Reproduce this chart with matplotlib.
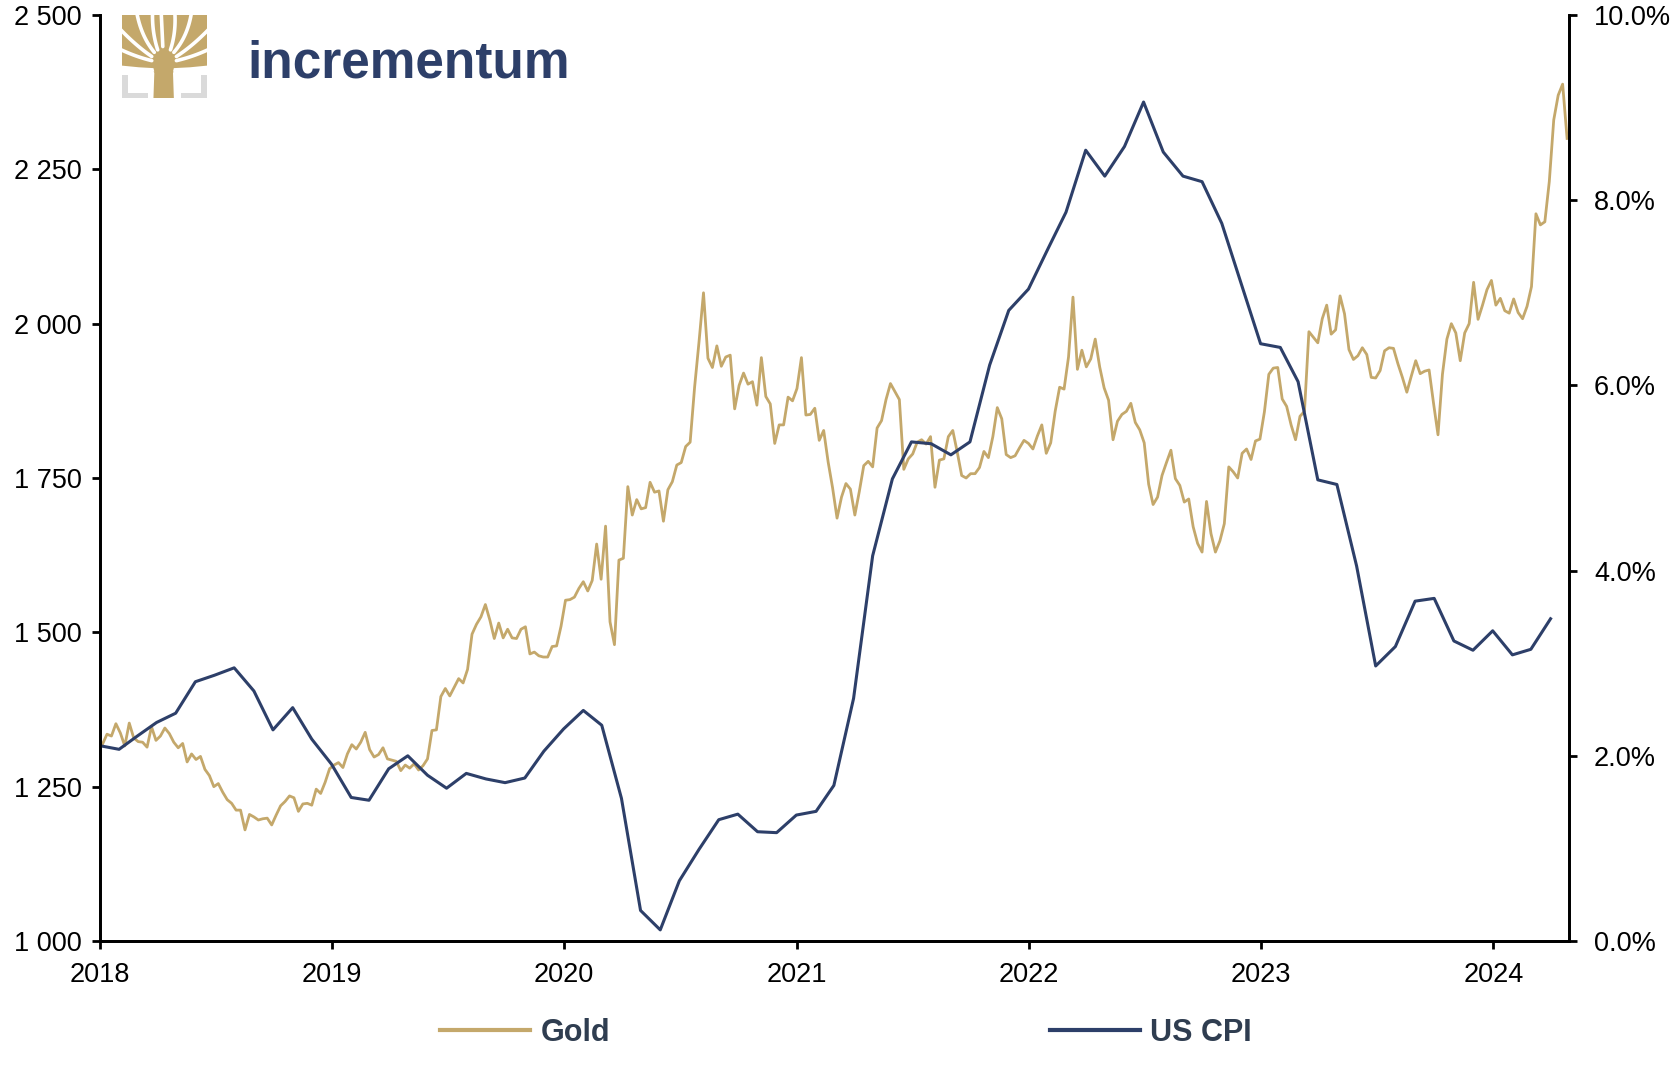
import numpy as np
import pandas as pd
import matplotlib
matplotlib.use("Agg")
import matplotlib.pyplot as plt
from matplotlib.patches import Rectangle, Polygon
from matplotlib.ticker import FuncFormatter, FixedLocator
import matplotlib.dates as mdates

plt.rcParams['font.family'] = ['Liberation Sans', 'DejaVu Sans']

# ---------------- data ----------------
# Gold price (USD/oz), weekly (Fridays)
gold_2018 = [1319, 1335, 1332, 1352, 1337, 1316, 1353, 1329, 1323, 1322, 1314, 1347, 1325,
             1332, 1345, 1336, 1322, 1313, 1320, 1290, 1303, 1294, 1299, 1278, 1268, 1250,
             1255, 1241, 1229, 1223, 1212, 1212, 1180, 1205, 1201, 1196, 1198, 1199, 1188,
             1204, 1219, 1226, 1235, 1232, 1210, 1222, 1223, 1220, 1246, 1239, 1257, 1279]
gold_2019 = [1285, 1289, 1281, 1303, 1318, 1311, 1322, 1338, 1310, 1298, 1302, 1313, 1295,
             1293, 1291, 1276, 1285, 1280, 1287, 1277, 1284, 1295, 1341, 1342, 1396, 1409,
             1397, 1411, 1425, 1418, 1440, 1497, 1513, 1525, 1545, 1520, 1490, 1515, 1491,
             1505, 1491, 1490, 1505, 1509, 1465, 1468, 1462, 1460, 1460, 1477, 1478, 1510]
gold_2020 = [1552, 1553, 1557, 1571, 1582, 1567, 1584, 1643, 1586, 1672, 1517, 1480, 1617,
             1620, 1736, 1690, 1715, 1700, 1702, 1743, 1727, 1729, 1680, 1731, 1744, 1771,
             1775, 1801, 1808, 1897, 1971, 2050, 1944, 1929, 1964, 1931, 1946, 1949, 1862,
             1900, 1920, 1902, 1906, 1868, 1945, 1882, 1870, 1806, 1836, 1836, 1881, 1875]
gold_2021 = [1895, 1945, 1852, 1853, 1863, 1811, 1827, 1776, 1734, 1685, 1719, 1741, 1732,
             1690, 1728, 1770, 1777, 1768, 1831, 1843, 1877, 1903, 1890, 1877, 1764, 1781,
             1789, 1808, 1812, 1805, 1817, 1735, 1779, 1781, 1817, 1827, 1792, 1754, 1750,
             1757, 1757, 1767, 1793, 1783, 1817, 1864, 1846, 1788, 1783, 1786, 1799, 1811, 1806]
gold_2022 = [1797, 1818, 1836, 1790, 1807, 1858, 1897, 1894, 1946, 2043, 1926, 1957,
             1930, 1943, 1975, 1930, 1896, 1876, 1812, 1842, 1853, 1858, 1871, 1840, 1828,
             1807, 1740, 1707, 1719, 1754, 1775, 1795, 1749, 1738, 1711, 1716, 1671, 1644, 1630,
             1712, 1660, 1630, 1648, 1676, 1768, 1760, 1750, 1790, 1797, 1780, 1810, 1813]
gold_2023 = [1857, 1918, 1928, 1929, 1878, 1866, 1836, 1812, 1850, 1858, 1987, 1978, 1969,
             2008, 2030, 1983, 1990, 2045, 2016, 1958, 1942, 1948, 1961, 1950, 1913, 1912,
             1924, 1956, 1961, 1960, 1935, 1913, 1889, 1915, 1940, 1919, 1923, 1925, 1871,
             1820, 1918, 1975, 2000, 1985, 1940, 1985, 2000, 2067, 2007, 2030, 2055, 2070]
gold_2024 = [2030, 2041, 2021, 2017, 2040, 2018, 2008, 2028, 2060, 2178, 2160, 2165, 2230,
             2330, 2370, 2388, 2300]
gold_years = {2018: gold_2018, 2019: gold_2019, 2020: gold_2020, 2021: gold_2021,
              2022: gold_2022, 2023: gold_2023, 2024: gold_2024}

# US CPI YoY (%), monthly, Dec 2017 - Mar 2024
cpi_values = [2.11,
              2.07, 2.21, 2.36, 2.46, 2.80, 2.87, 2.95, 2.70, 2.28, 2.52, 2.18, 1.91,
              1.55, 1.52, 1.86, 2.00, 1.79, 1.65, 1.81, 1.75, 1.71, 1.76, 2.05, 2.29,
              2.49, 2.33, 1.54, 0.33, 0.12, 0.65, 0.99, 1.31, 1.37, 1.18, 1.17, 1.36,
              1.40, 1.68, 2.62, 4.16, 4.99, 5.39, 5.37, 5.25, 5.39, 6.22, 6.81, 7.04,
              7.48, 7.87, 8.54, 8.26, 8.58, 9.06, 8.52, 8.26, 8.20, 7.75, 7.11, 6.45,
              6.41, 6.04, 4.98, 4.93, 4.05, 2.97, 3.18, 3.67, 3.70, 3.24, 3.14, 3.35,
              3.09, 3.15, 3.48]
cpi_start = '2017-12-31'

left_ticks = [1000, 1250, 1500, 1750, 2000, 2250, 2500]
right_ticks = [0, 2, 4, 6, 8, 10]
year_ticks = [2018, 2019, 2020, 2021, 2022, 2023, 2024]
x_start, x_end = '2018-01-01', '2024-04-29'

GOLD_C = '#C4A86B'
NAVY = '#2D3F69'
LEG_TXT = '#2F3D50'

# ---------------- figure ----------------
W, H = 1677, 1066
fig = plt.figure(figsize=(W / 100, H / 100), dpi=100)
ax = fig.add_axes([100 / W, 125 / H, 1469 / W, 926 / H])
ax2 = ax.twinx()

gold_dates, gold_vals = [], []
for yr, vals in gold_years.items():
    d = pd.date_range(f'{yr}-01-01', periods=len(vals), freq='W-FRI')
    gold_dates.extend(d)
    gold_vals.extend(vals)

cpi_dates = pd.date_range(cpi_start, periods=len(cpi_values), freq='ME')

l1, = ax.plot(gold_dates, gold_vals, color=GOLD_C, lw=2.0, label='Gold')
l2, = ax2.plot(cpi_dates, cpi_values, color=NAVY, lw=2.2, label='US CPI')

ax.set_xlim(pd.Timestamp(x_start), pd.Timestamp(x_end))
ax.set_ylim(left_ticks[0], left_ticks[-1])
ax2.set_ylim(right_ticks[0], right_ticks[-1])

ax.xaxis.set_major_locator(FixedLocator([mdates.date2num(pd.Timestamp(f'{y}-01-01')) for y in year_ticks]))
ax.xaxis.set_major_formatter(FuncFormatter(lambda v, p: mdates.num2date(v).strftime('%Y')))
ax.yaxis.set_major_locator(FixedLocator(left_ticks))
ax.yaxis.set_major_formatter(FuncFormatter(lambda v, p: f"{int(round(v)):,}".replace(',', ' ')))
ax2.yaxis.set_major_locator(FixedLocator(right_ticks))
ax2.yaxis.set_major_formatter(FuncFormatter(lambda v, p: f"{v:.1f}%"))

for a in (ax, ax2):
    a.spines['top'].set_visible(False)
    for s in ('left', 'right', 'bottom'):
        a.spines[s].set_linewidth(2.0)
        a.spines[s].set_color('black')
    a.patch.set_visible(False)

ax.tick_params(axis='y', direction='out', length=6, width=2, labelsize=19.5, pad=7)
ax.tick_params(axis='x', direction='out', length=6, width=2, labelsize=19.5, pad=9)
ax2.tick_params(axis='y', direction='out', length=6, width=2, labelsize=19.5, pad=12)

leg = fig.legend(handles=[l1, l2], labels=['Gold', 'US CPI'], loc='center',
                 bbox_to_anchor=(846 / W, 1 - 1033 / H), ncol=2, frameon=False,
                 handlelength=2.95, handletextpad=0.33, columnspacing=14.4,
                 prop={'weight': 'bold', 'size': 22})
for t in leg.get_texts():
    t.set_color(LEG_TXT)
for lh in leg.legend_handles:
    lh.set_linewidth(3)

# ---------------- logo ----------------
lax = fig.add_axes([122 / W, 1 - 98 / H, 85 / W, 83 / H])
lax.set_xlim(0, 1)
lax.set_ylim(0, 1)
lax.axis('off')
GRAY = '#DADADA'
for (x0, y0, w, h) in [(0, 0, 0.07, 0.28), (0, 0, 0.31, 0.06),
                       (0.93, 0, 0.07, 0.28), (0.69, 0, 0.31, 0.06)]:
    lax.add_patch(Rectangle((x0, y0), w, h, color=GRAY, lw=0))
lax.add_patch(Rectangle((0, 0.33), 1, 0.67, color=GOLD_C, lw=0))
lax.add_patch(Polygon([(0.37, 0), (0.61, 0), (0.60, 0.30), (0.64, 0.42),
                       (0.34, 0.42), (0.38, 0.30)], closed=True, color=GOLD_C, lw=0))
lax.add_patch(Polygon([(0.0, 0.32), (0.38, 0.32), (0.37, 0.36), (0.2, 0.37), (0.0, 0.39)],
                      closed=True, color='white', lw=0))
lax.add_patch(Polygon([(1.0, 0.32), (0.60, 0.32), (0.61, 0.36), (0.8, 0.37), (1.0, 0.39)],
                      closed=True, color='white', lw=0))
t = np.linspace(0, 1, 40)
gaps = [((0.48, 0.62), (0.47, 0.85), (0.46, 1.05)),
        ((0.42, 0.58), (0.35, 0.80), (0.36, 1.05)),
        ((0.57, 0.58), (0.64, 0.80), (0.62, 1.05)),
        ((0.38, 0.55), (0.22, 0.75), (0.17, 1.05)),
        ((0.61, 0.55), (0.78, 0.75), (0.82, 1.05)),
        ((0.35, 0.50), (0.15, 0.64), (-0.05, 0.86)),
        ((0.64, 0.50), (0.85, 0.64), (1.05, 0.86)),
        ((0.35, 0.45), (0.15, 0.50), (-0.05, 0.60)),
        ((0.64, 0.45), (0.85, 0.50), (1.05, 0.60))]
for p0, p1, p2 in gaps:
    bx = (1 - t) ** 2 * p0[0] + 2 * (1 - t) * t * p1[0] + t ** 2 * p2[0]
    by = (1 - t) ** 2 * p0[1] + 2 * (1 - t) * t * p1[1] + t ** 2 * p2[1]
    lax.plot(bx, by, color='white', lw=2.6, solid_capstyle='round')

fig.text(247 / W, 1 - 77 / H, 'incrementum', fontsize=37, fontweight='bold',
         color=NAVY, va='baseline', ha='left')

fig.savefig('out.png', dpi=100)
